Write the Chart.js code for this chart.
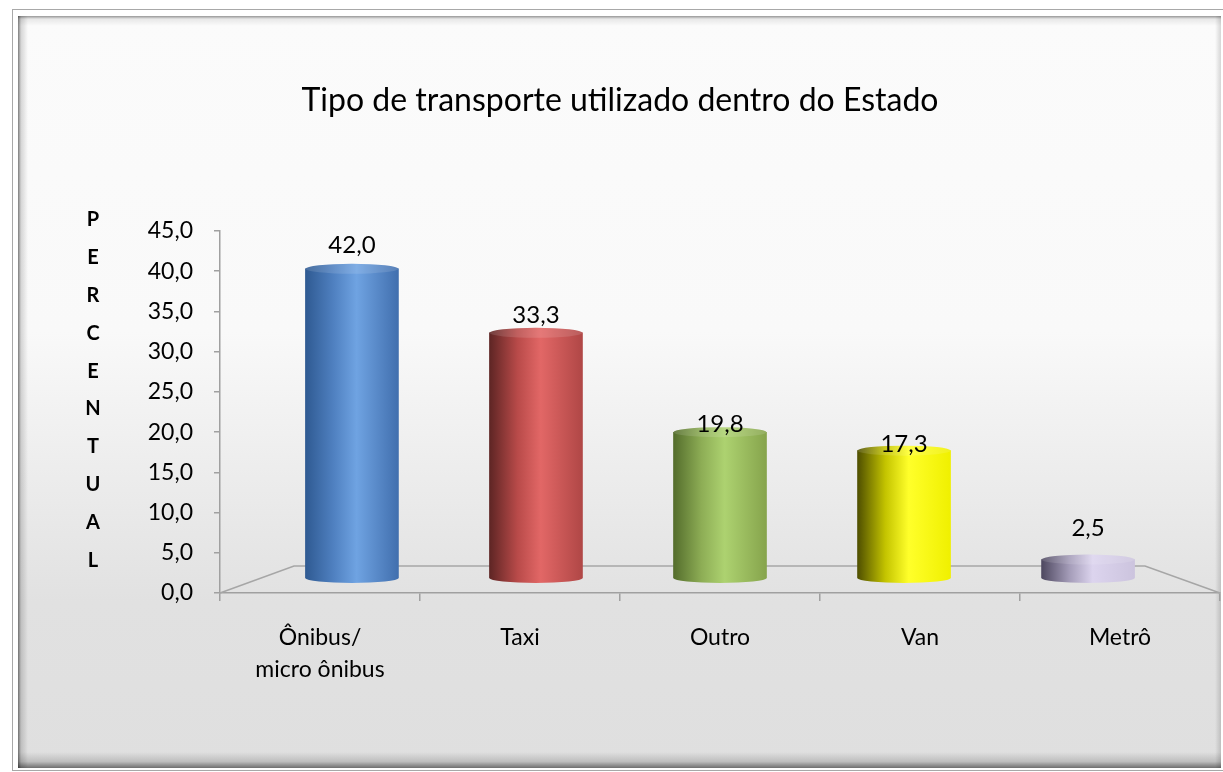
<!DOCTYPE html>
<html>
<head>
<meta charset="utf-8">
<script src="https://cdn.jsdelivr.net/npm/chart.js@4.4.0/dist/chart.umd.min.js"></script>
<style>
  html, body { margin: 0; padding: 0; background: #fff; }
  #mycanvas { display: block; }
</style>
</head>
<body>
<canvas id="mycanvas" width="1223" height="772" style="width:1223px;height:772px"></canvas>
<script>
// dados do grafico
var categorias = [['Ônibus/', 'micro ônibus'], 'Taxi', 'Outro', 'Van', 'Metrô'];
var percentual = [42.0, 33.3, 19.8, 17.3, 2.5];
var ticksY = [0, 5, 10, 15, 20, 25, 30, 35, 40, 45];
var titulo = 'Tipo de transporte utilizado dentro do Estado';
var tituloEixoY = 'PERCENTUAL';

// cores dos cilindros: [borda escura, meio, brilho, borda direita]
var cores = [
	['#2f5a92', '#4f80c0', '#6fa3e2', '#416fae'],
	['#5e2524', '#b84a49', '#e26766', '#b04746'],
	['#546d2c', '#8dad55', '#add270', '#86a44c'],
	['#4f4f00', '#c4c400', '#ffff2a', '#f0f000'],
	['#4e4860', '#a49cb8', '#dcd4ee', '#ccc4de']
];

var fonte = 'Lato, "Liberation Sans", sans-serif';
var larguraBarra = 93;
var raioY = 5;

function gradiente(ctx, x0, x1, c) {
	var g = ctx.createLinearGradient(x0, 0, x1, 0);
	g.addColorStop(0, c[0]);
	g.addColorStop(0.3, c[1]);
	g.addColorStop(0.55, c[2]);
	g.addColorStop(1, c[3]);
	return g;
}

function fmt(v) {
	return v.toFixed(1).replace('.', ',');
}

var moldura = {
	id: 'moldura',
	beforeDraw: function(chart) {
		var ctx = chart.ctx, w = chart.width, h = chart.height;
		ctx.save();
		ctx.fillStyle = '#ffffff';
		ctx.fillRect(0, 0, w, h);
		ctx.strokeStyle = '#a8a8a8';
		ctx.lineWidth = 1;
		ctx.strokeRect(12.5, 9.5, w, 761);
		var x0 = 18, y0 = 16, x1 = 1221, y1 = 768;
		var g = ctx.createLinearGradient(0, y0, 0, y1);
		g.addColorStop(0, '#fbfbfb');
		g.addColorStop(0.42, '#f9f9f9');
		g.addColorStop(0.78, '#e1e1e1');
		g.addColorStop(1, '#dfdfdf');
		ctx.fillStyle = g;
		ctx.fillRect(x0, y0, x1 - x0, y1 - y0);
		// bordas chanfradas
		var b = ctx.createLinearGradient(x0, 0, x0 + 10, 0);
		b.addColorStop(0, 'rgba(0,0,0,0.5)');
		b.addColorStop(0.3, 'rgba(0,0,0,0.15)');
		b.addColorStop(1, 'rgba(0,0,0,0)');
		ctx.fillStyle = b;
		ctx.fillRect(x0, y0, 10, y1 - y0);
		b = ctx.createLinearGradient(0, y0, 0, y0 + 10);
		b.addColorStop(0, 'rgba(0,0,0,0.4)');
		b.addColorStop(0.3, 'rgba(0,0,0,0.08)');
		b.addColorStop(1, 'rgba(0,0,0,0)');
		ctx.fillStyle = b;
		ctx.fillRect(x0, y0, x1 - x0, 10);
		b = ctx.createLinearGradient(0, y1 - 16, 0, y1);
		b.addColorStop(0, 'rgba(0,0,0,0)');
		b.addColorStop(0.6, 'rgba(0,0,0,0.15)');
		b.addColorStop(1, 'rgba(0,0,0,0.5)');
		ctx.fillStyle = b;
		ctx.fillRect(x0, y1 - 16, x1 - x0, 16);
		b = ctx.createLinearGradient(x1 - 6, 0, x1, 0);
		b.addColorStop(0, 'rgba(0,0,0,0)');
		b.addColorStop(1, 'rgba(0,0,0,0.15)');
		ctx.fillStyle = b;
		ctx.fillRect(x1 - 6, y0, 6, y1 - y0);
		ctx.restore();
	},
	beforeDatasetsDraw: function(chart) {
		// piso 3D
		var a = chart.chartArea, ctx = chart.ctx;
		ctx.save();
		ctx.strokeStyle = '#a6a6a6';
		ctx.lineWidth = 1.5;
		ctx.beginPath();
		ctx.moveTo(a.left, a.bottom);
		ctx.lineTo(a.left + 74, a.bottom - 27);
		ctx.lineTo(a.right - 75, a.bottom - 27);
		ctx.lineTo(a.right, a.bottom);
		ctx.stroke();
		ctx.restore();
	}
};

var cilindros = {
	id: 'cilindros',
	afterDatasetsDraw: function(chart) {
		var ctx = chart.ctx;
		var meta = chart.getDatasetMeta(0);
		var y = chart.scales.y;
		meta.data.forEach(function(el, i) {
			var c = cores[i];
			var x0 = el.x - el.width / 2, x1 = el.x + el.width / 2;
			var rx = el.width / 2;
			ctx.save();
			// base
			ctx.fillStyle = gradiente(ctx, x0, x1, c);
			ctx.beginPath();
			ctx.ellipse(el.x, el.base, rx, raioY, 0, 0, Math.PI);
			ctx.fill();
			// topo
			ctx.beginPath();
			ctx.ellipse(el.x, el.y, rx, raioY, 0, 0, Math.PI * 2);
			ctx.fill();
			ctx.fillStyle = 'rgba(255,255,255,0.12)';
			ctx.fill();
			// rotulo
			var base = y.getPixelForValue(percentual[i]) - 2;
			if (base > el.y + 5) base = el.y - 24;
			ctx.fillStyle = '#000';
			ctx.font = '24px ' + fonte;
			ctx.textAlign = 'center';
			ctx.textBaseline = 'alphabetic';
			ctx.fillText(fmt(percentual[i]), el.x, base);
			ctx.restore();
		});
		// titulo do eixo Y, letra por letra
		ctx.save();
		ctx.fillStyle = '#000';
		ctx.font = 'bold 20px ' + fonte;
		ctx.textAlign = 'center';
		ctx.textBaseline = 'middle';
		tituloEixoY.split('').forEach(function(l, i) {
			ctx.fillText(l, 93, 220 + i * 37.8);
		});
		ctx.restore();
	}
};

var ctx = document.getElementById('mycanvas');

var barGraph = new Chart(ctx, {
	type: 'bar',
	data: {
		labels: categorias,
		datasets: [{
			label: 'Percentual',
			data: percentual.map(function(v, i) { return {x: i, y: v}; }),
			xAxisID: 'xb',
			yAxisID: 'yb',
			barThickness: larguraBarra,
			borderWidth: 0,
			backgroundColor: function(c) {
				var xb = c.chart.scales.xb;
				var cx = xb ? xb.getPixelForValue(c.dataIndex) : NaN;
				if (!isFinite(cx)) return cores[c.dataIndex][2];
				return gradiente(c.chart.ctx, cx - larguraBarra / 2, cx + larguraBarra / 2, cores[c.dataIndex]);
			}
		}]
	},
	options: {
		responsive: false,
		animation: false,
		layout: { padding: { left: 20, right: 3, top: 0, bottom: 0 } },
		plugins: {
			legend: { display: false },
			tooltip: { enabled: false },
			title: {
				display: true,
				text: titulo,
				color: '#000',
				font: { family: fonte, size: 32, weight: 'normal', lineHeight: 1.2 },
				padding: { top: 81, bottom: 111.6 }
			}
		},
		scales: {
			x: {
				type: 'category',
				position: 'bottom',
				offset: true,
				afterFit: function(s) { s.height = 179; },
				border: { color: '#a0a0a0', width: 1.5 },
				grid: { display: true, drawOnChartArea: false, offset: true, color: '#a0a0a0', tickLength: 8, lineWidth: 1.5 },
				ticks: { color: '#000', font: { family: fonte, size: 23, lineHeight: 1.4 }, padding: 20, maxRotation: 0 }
			},
			y: {
				position: 'left',
				min: 0,
				max: 45,
				afterFit: function(s) { s.width = 200; },
				afterBuildTicks: function(s) { s.ticks = ticksY.map(function(v) { return {value: v}; }); },
				border: { color: '#a0a0a0', width: 1.5 },
				grid: { display: true, drawOnChartArea: false, color: '#a0a0a0', tickLength: 6, lineWidth: 1.5 },
				ticks: { color: '#000', font: { family: fonte, size: 23 }, padding: 21, callback: function(v) { return fmt(v); } }
			},
			xb: { type: 'linear', display: false, offset: false, min: -0.717, max: 4.717 },
			yb: { type: 'linear', display: false, min: -2.04, max: 47.14 }
		}
	},
	plugins: [moldura, cilindros]
});
</script>
</body>
</html>
